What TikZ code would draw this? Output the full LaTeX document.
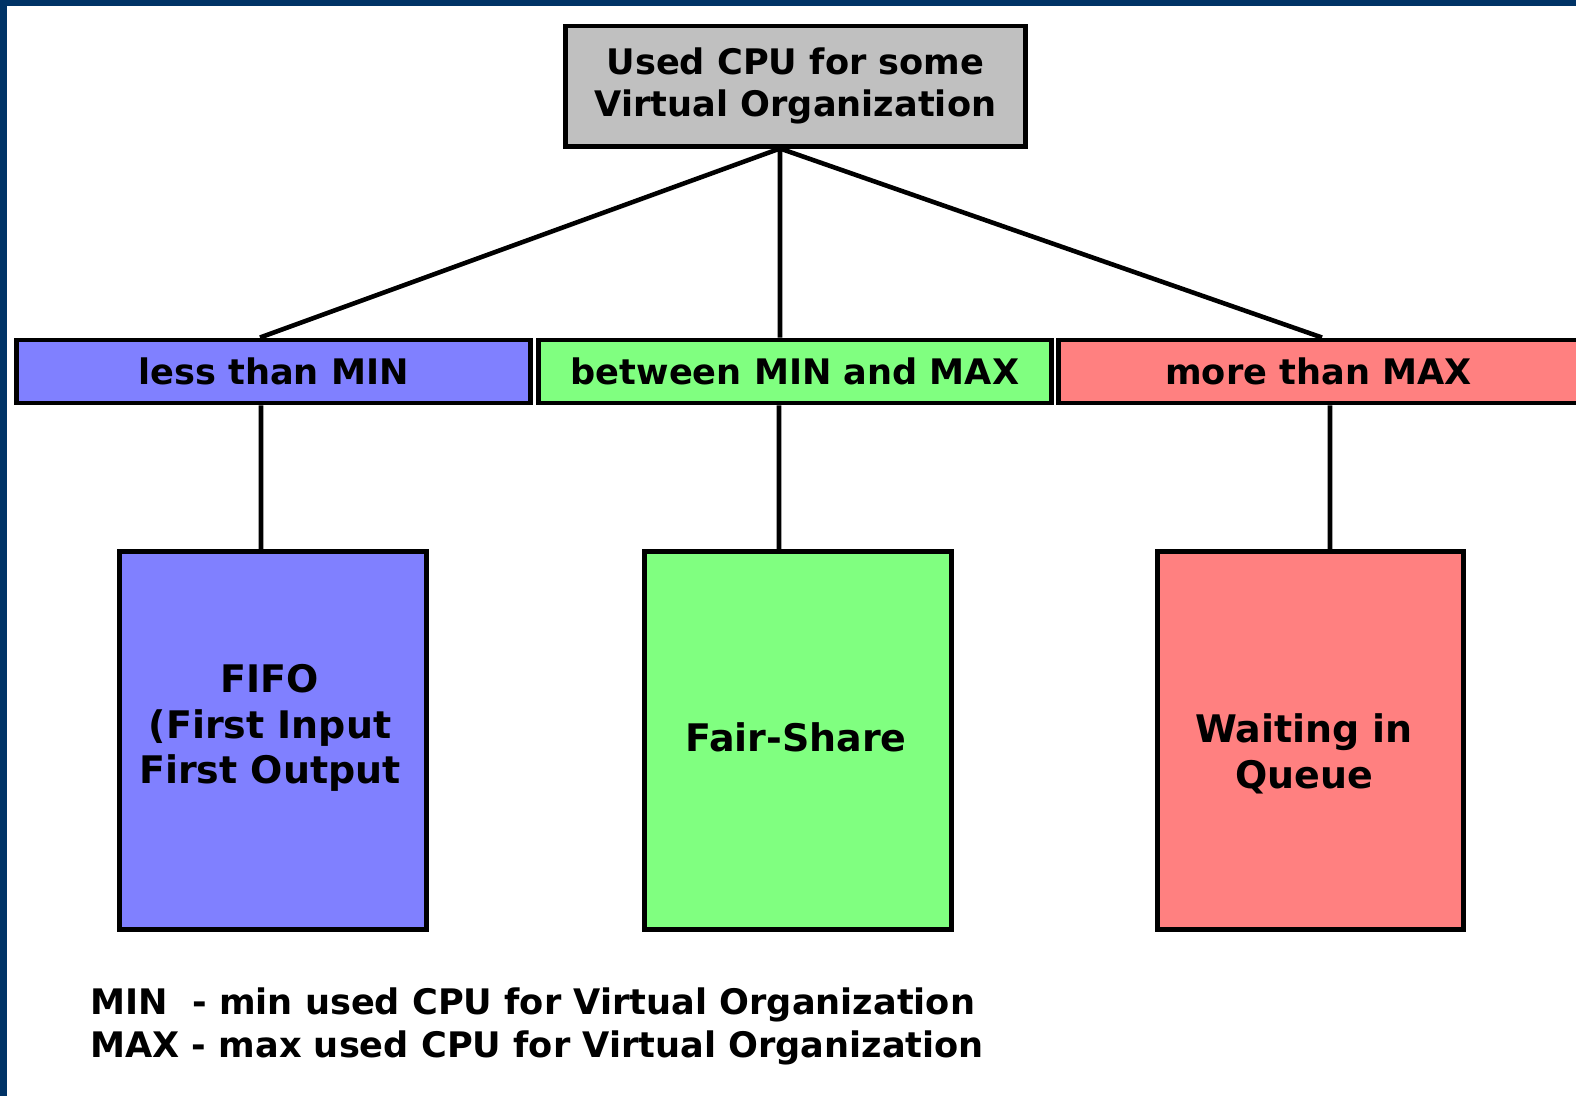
\documentclass[tikz,border=0pt]{standalone}
\usepackage{fontspec}
\setmainfont{DejaVu Sans}
\usepackage{tikz}

\definecolor{framenavy}{HTML}{003366}
\definecolor{lowblue}{HTML}{8080FF}
\definecolor{midgreen}{HTML}{80FF80}
\definecolor{highred}{HTML}{FF8080}
\definecolor{topgray}{HTML}{C0C0C0}

\begin{document}
\begin{tikzpicture}[x = 0.01cm, y = -0.01cm, line width = 1.3pt,
                        box/.style = {draw, rectangle, line width = 1.4pt, font = \bfseries, align = center, inner sep = 0pt},
                        bar/.style = {box, minimum height = 0.63cm},
                        tall/.style = {box, minimum width = 3.06cm, minimum height = 3.77cm},
                        inside/.style = {align = center, inner sep = 0pt, font = \fontsize{10.8}{13}\bfseries\selectfont}]
    \useasboundingbox (0,0) rectangle (1576,1096);
    \fill [framenavy] (0,0) rectangle (1576,6);
    \fill [framenavy] (0,0) rectangle (7,1096);
    \node [box, fill = topgray, minimum width = 4.59cm, minimum height = 1.2cm] (vo) at (795.5,86) {Used CPU for some\\Virtual Organization};
    \node [bar, fill = lowblue, minimum width = 5.13cm] (less) at (273.5,371.5) {less than MIN};
    \node [bar, fill = midgreen, minimum width = 5.12cm] (mid) at (795,371.5) {between MIN and MAX};
    \node [bar, fill = highred, minimum width = 5.19cm] (more) at (1318.5,371.5) {more than MAX};
    \node [tall, fill = lowblue] (fifo) at (273,740.5) {};
    \node [tall, fill = midgreen] (fair) at (798,740.5) {};
    \node [tall, fill = highred] (queue) at (1310.5,740.5) {};
    \node [inside] (fifotext) at (270,728) {FIFO\\(First Input\\First Output};
    \node [inside] (fairtext) at (796,737) {Fair-Share};
    \node [inside] (queuetext) at (1304,754) {Waiting in\\Queue};
    \coordinate (hub) at ([xshift = -0.155cm]vo.south);
    \draw (hub)--([xshift = -0.135cm]less.north);
    \draw (hub)--([xshift = -0.15cm]mid.north);
    \draw (hub)--([xshift = 0.035cm]more.north);
    \draw ([xshift = -0.125cm]less.south)--([xshift = -0.12cm]fifo.north);
    \draw ([xshift = -0.16cm]mid.south)--([xshift = -0.19cm]fair.north);
    \draw ([xshift = 0.115cm]more.south)--([xshift = 0.195cm]queue.north);
    \node [anchor = west, align = left, inner sep = 0pt, font = \fontsize{10}{12.2}\bfseries\selectfont] (legend) at (88,1026) {MIN\ \ - min used CPU for Virtual Organization\\MAX - max used CPU for Virtual Organization};
  \end{tikzpicture}
\end{document}
